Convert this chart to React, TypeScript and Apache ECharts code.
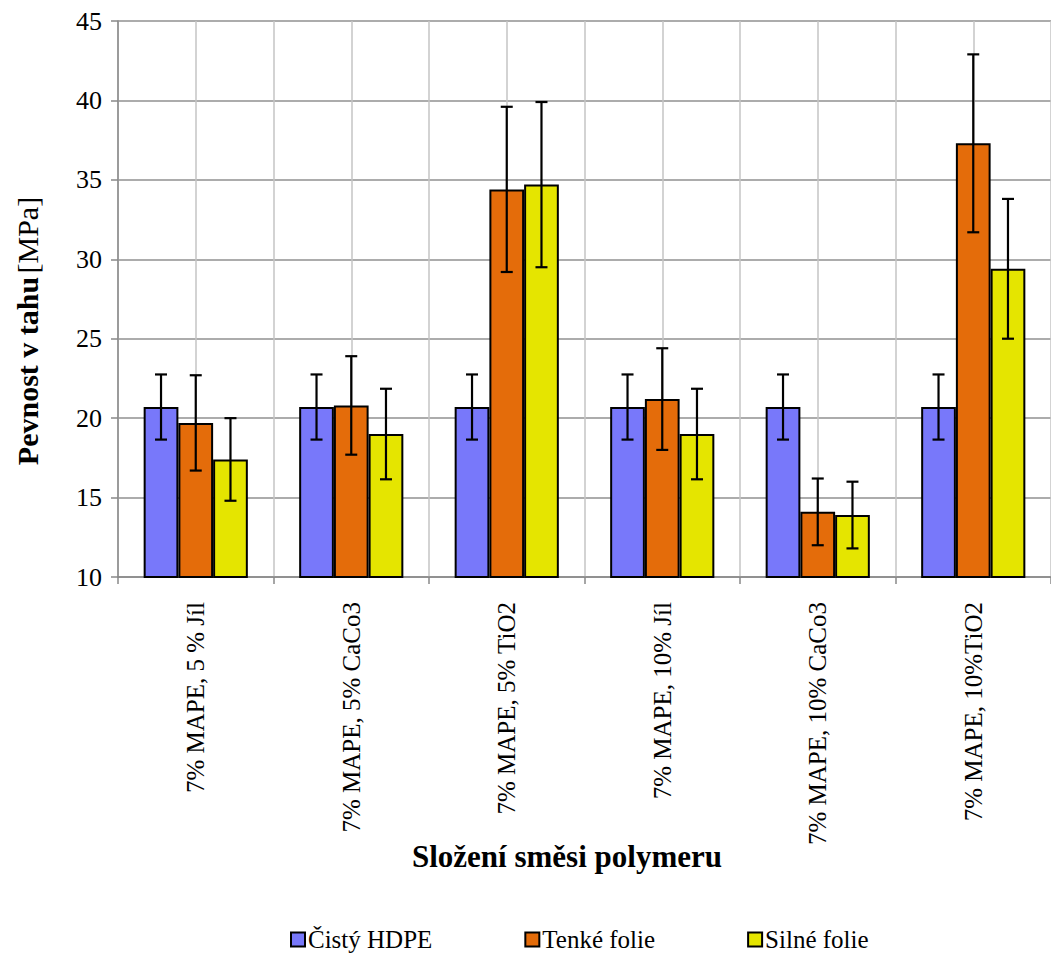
import React, { useEffect, useRef } from "react";
import * as echarts from "echarts";

// Tensile strength of HDPE blends (mean ± standard deviation)
const categories = [
  "7% MAPE, 5 % Jíl",
  "7% MAPE, 5% CaCo3",
  "7% MAPE, 5% TiO2",
  "7% MAPE, 10% Jíl",
  "7% MAPE, 10% CaCo3",
  "7% MAPE, 10%TiO2",
];
const seriesNames = ["Čistý HDPE", "Tenké folie", "Silné folie"];
const pureHdpe = [20.7, 20.7, 20.7, 20.7, 20.7, 20.7];
const pureHdpeErr = [2.05, 2.05, 2.05, 2.05, 2.05, 2.05];
const thinFilm = [19.7, 20.8, 34.4, 21.2, 14.1, 37.3];
const thinFilmErr = [3.0, 3.1, 5.2, 3.2, 2.1, 5.6];
const thickFilm = [17.4, 19.0, 34.7, 19.0, 13.9, 29.4];
const thickFilmErr = [2.6, 2.85, 5.2, 2.85, 2.1, 4.4];

const colors = ["#7878FA", "#E46C0A", "#E5E500"];
const CATEGORY_GAP = 0.33;
const FONT = "Liberation Serif";

function barSeries(name: string, data: number[], color: string) {
  return {
    type: "bar",
    name,
    data,
    xAxisIndex: 0,
    yAxisIndex: 0,
    barGap: "0%",
    barCategoryGap: `${CATEGORY_GAP * 100}%`,
    itemStyle: { color, borderColor: "#000", borderWidth: 2 },
    z: 3,
  };
}

function errorSeries(idx: number, values: number[], errs: number[]) {
  return {
    type: "custom",
    xAxisIndex: 0,
    yAxisIndex: 0,
    silent: true,
    z: 10,
    data: values.map((v, i) => [i, v - errs[i], v + errs[i]]),
    renderItem: (_params: any, api: any) => {
      const cat = api.value(0);
      const lo = api.coord([cat, api.value(1)]);
      const hi = api.coord([cat, api.value(2)]);
      const catW = api.size([1, 0])[0];
      const barW = (catW * (1 - CATEGORY_GAP)) / 3;
      const x = lo[0] + (idx - 1) * barW;
      const cap = 6;
      const style = { stroke: "#000", lineWidth: 2.2 };
      return {
        type: "group",
        children: [
          { type: "line", shape: { x1: x, y1: hi[1], x2: x, y2: lo[1] }, style },
          { type: "line", shape: { x1: x - cap, y1: hi[1], x2: x + cap, y2: hi[1] }, style },
          { type: "line", shape: { x1: x - cap, y1: lo[1], x2: x + cap, y2: lo[1] }, style },
        ],
      };
    },
  };
}

export default function App() {
  const ref = useRef<HTMLDivElement>(null);

  useEffect(() => {
    if (!ref.current) return;
    const chart = echarts.init(ref.current, undefined, { renderer: "svg" });
    const halfCats = Array.from({ length: categories.length * 2 }, () => "");

    chart.setOption({
      animation: false,
      backgroundColor: "#fff",
      textStyle: { fontFamily: FONT, color: "#000" },
      grid: { left: 118, top: 21, right: -10, bottom: 378, containLabel: false },
      legend: {
        data: seriesNames,
        left: 290,
        top: 927,
        padding: 0,
        itemWidth: 14,
        itemHeight: 14,
        itemGap: 92,
        icon: "rect",
        textStyle: { fontFamily: FONT, fontSize: 25, color: "#000", padding: [0, 0, 0, -2] },
      },
      xAxis: [
        {
          type: "category",
          data: categories,
          boundaryGap: true,
          axisLine: { lineStyle: { color: "#888", width: 1.5 } },
          axisTick: { show: true, length: 7, lineStyle: { color: "#888", width: 1.5 } },
          axisLabel: {
            interval: 0,
            rotate: 90,
            margin: 25,
            fontFamily: FONT,
            fontSize: 25,
            color: "#000",
          },
          splitLine: { show: false },
        },
        {
          type: "category",
          data: halfCats,
          boundaryGap: true,
          position: "bottom",
          axisLine: { show: false },
          axisTick: { show: false },
          axisLabel: { show: false },
          splitLine: { show: true, interval: 0, lineStyle: { color: "#c4c4c4", width: 1.5 } },
        },
      ],
      yAxis: {
        type: "value",
        min: 10,
        max: 45,
        interval: 5,
        axisLine: { show: true, lineStyle: { color: "#888", width: 1.5 } },
        axisTick: { show: true, length: 7, lineStyle: { color: "#888", width: 1.5 } },
        axisLabel: { margin: 16, fontFamily: FONT, fontSize: 26, color: "#000" },
        splitLine: { show: true, lineStyle: { color: "#909090", width: 1.5 } },
      },
      graphic: [
        {
          type: "text",
          x: 27,
          y: 331,
          rotation: Math.PI / 2,
          style: {
            text: "{b|Pevnost v tahu} {r|[MPa]}",
            align: "center",
            verticalAlign: "middle",
            rich: {
              b: { fontFamily: FONT, fontSize: 30, fontWeight: "bold", fill: "#000" },
              r: { fontFamily: FONT, fontSize: 30, fill: "#000" },
            },
          },
        },
        {
          type: "text",
          x: 567,
          y: 856,
          style: {
            text: "Složení směsi polymeru",
            align: "center",
            verticalAlign: "middle",
            fontFamily: FONT,
            fontSize: 31,
            fontWeight: "bold",
            fill: "#000",
          },
        },
      ],
      series: [
        barSeries(seriesNames[0], pureHdpe, colors[0]),
        barSeries(seriesNames[1], thinFilm, colors[1]),
        barSeries(seriesNames[2], thickFilm, colors[2]),
        errorSeries(0, pureHdpe, pureHdpeErr),
        errorSeries(1, thinFilm, thinFilmErr),
        errorSeries(2, thickFilm, thickFilmErr),
      ],
    });

    return () => chart.dispose();
  }, []);

  return (
    <div
      ref={ref}
      style={{ position: "absolute", left: 0, top: 0, width: 1051, height: 955, overflow: "hidden" }}
    />
  );
}
